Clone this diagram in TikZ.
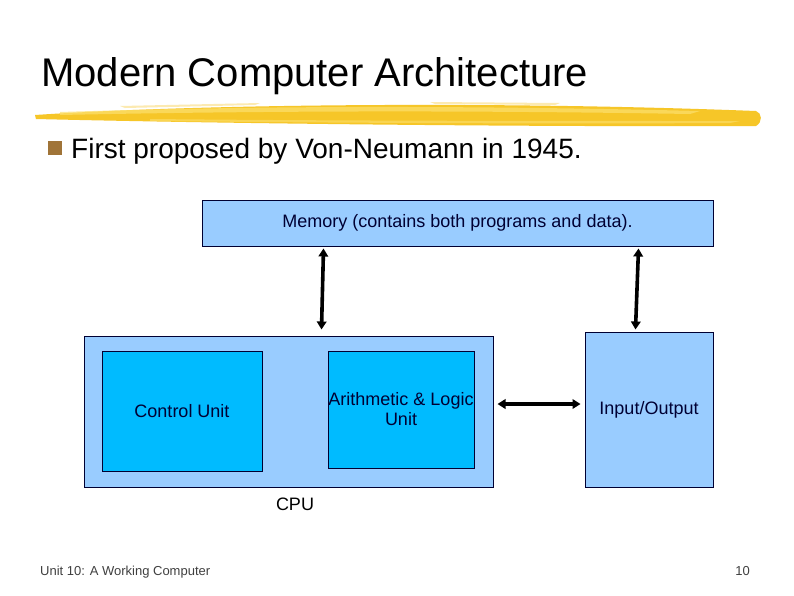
\documentclass[tikz,border=0pt]{standalone}
\usepackage{fontspec}
\setmainfont{Liberation Sans}
\usetikzlibrary{arrows.meta,positioning}
\definecolor{memblue}{RGB}{153,204,255}
\definecolor{unitblue}{RGB}{0,187,255}
\definecolor{navy}{RGB}{0,0,51}
\definecolor{brushgold}{RGB}{246,198,40}
\definecolor{brushlight}{RGB}{252,224,110}
\definecolor{bulletbrown}{RGB}{160,116,56}
\tikzset{
  box/.style={rectangle, draw=navy, line width=1pt, fill=memblue, inner sep=0pt,
    align=center, text=navy, font=\fontsize{18}{20}\selectfont},
  unit/.style={box, fill=unitblue},
  annot/.style={inner sep=0pt, font=\fontsize{18}{20}\selectfont},
  slide/.style={inner sep=0pt, anchor=base west},
  dflow/.style={{Triangle[length=8pt,width=9.5pt]}-{Triangle[length=8pt,width=9.5pt]}, line width=3.6pt},
}
\begin{document}
\begin{tikzpicture}[x=1pt,y=-1pt]
  \useasboundingbox[fill=white] (0,0) rectangle (794,595);
  \node[slide, font=\fontsize{40}{48}\selectfont] (title) at (41,86) {Modern Computer Architecture};
  \fill[brushgold] (35,115) .. controls (200,104) and (500,101) .. (756,111)
    .. controls (762,113) and (763,122) .. (756,126)
    .. controls (500,127) and (200,123) .. (36,119) -- cycle;
  \fill[brushlight, opacity=0.7] (60,112) .. controls (250,106) and (450,105) .. (700,111)
    -- (690,114) .. controls (450,110) and (250,111) .. (60,115) -- cycle;
  \fill[brushlight, opacity=0.6] (150,119) .. controls (350,121) and (550,121) .. (740,121)
    -- (730,123) .. controls (550,124) and (350,123) .. (150,121) -- cycle;
  \fill[brushgold!60, opacity=0.6] (120,106) -- (260,103) -- (255,105) -- (125,108) -- cycle;
  \fill[brushgold!60, opacity=0.6] (430,102) -- (560,103) -- (555,105) -- (435,104) -- cycle;
  \node[fill=bulletbrown, minimum size=14pt, inner sep=0pt] (bul) at (55,148) {};
  \node[slide, font=\fontsize{28}{32}\selectfont] (point) at (71,158) {First proposed by Von-Neumann in 1945.};
  \node[box, minimum width=511pt, minimum height=46pt] (mem) at (457.5,223) {Memory (contains both programs and data).};
  \node[box, minimum width=409pt, minimum height=151pt] (cpu) at (288.5,411.5) {};
  \node[unit, minimum width=160pt, minimum height=120pt] (cu) at (182,411) {Control Unit};
  \node[unit, minimum width=146pt, minimum height=117pt] (alu) at (401,409.5) {Arithmetic \& Logic\\Unit};
  \node[box, minimum width=128pt, minimum height=155pt] (io) at (649,409.5) {Input/Output};
  \node[annot] (cpulbl) at (295,504) {CPU};
  \draw[dflow] ([xshift=122pt,yshift=-2pt]mem.south west) -- ([xshift=238pt,yshift=6pt]cpu.north west);
  \draw[dflow] ([xshift=-75pt,yshift=-2pt]mem.south east) -- ([xshift=51pt,yshift=2pt]io.north west);
  \draw[dflow] ([xshift=4pt,yshift=7.5pt]cpu.east) -- ([xshift=-4pt,yshift=5.5pt]io.west);
  \node[slide, font=\fontsize{13}{15}\selectfont, text=black!75] (foot) at (40,575) {Unit 10: A Working Computer};
  \node[slide, anchor=base east, font=\fontsize{13}{15}\selectfont, text=black!75] (pageno) at (750,575) {10};
\end{tikzpicture}
\end{document}
